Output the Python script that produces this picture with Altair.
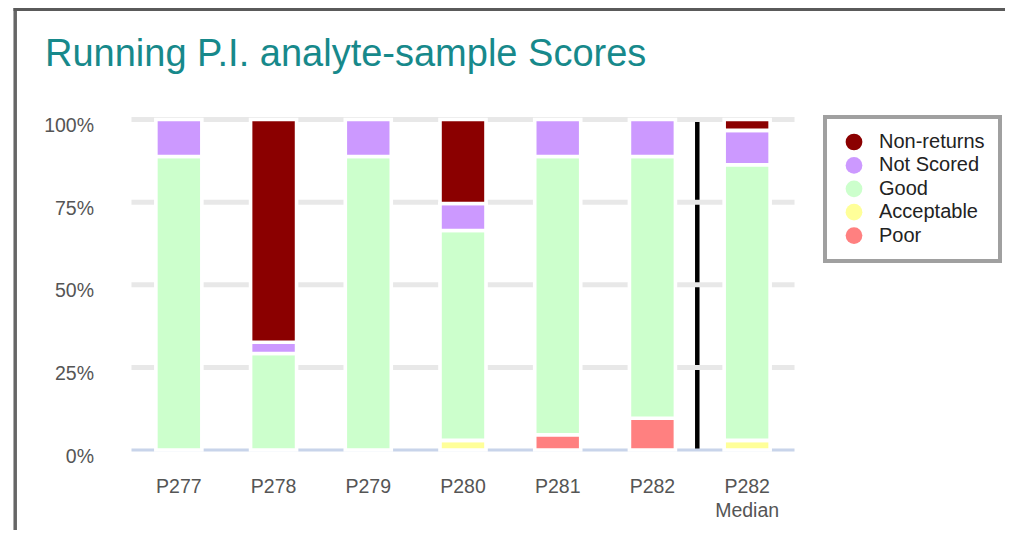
import altair as alt
import pandas as pd

# ---------------- data ----------------
categories = ["P277", "P278", "P279", "P280", "P281", "P282", "P282 Median"]
series = ["Non-returns", "Not Scored", "Good", "Acceptable", "Poor"]
colors = ["#8b0000", "#cc99ff", "#ccffcc", "#ffff99", "#ff8080"]

poor = [0, 0, 0, 0, 4.6, 9.6, 0]
acceptable = [0, 0, 0, 2.9, 0, 0, 2.9]
good = [88.8, 29.2, 88.8, 63.5, 84.2, 79.2, 83.4]
not_scored = [11.2, 3.4, 11.2, 8.2, 11.2, 11.2, 10.4]
non_returns = [0, 67.4, 0, 25.4, 0, 0, 3.3]

y_ticks = [0, 25, 50, 75, 100]
separator_before = "P282 Median"
title_text = "Running P.I. analyte-sample Scores"

# ---------------- layout ----------------
PAD_L, PAD_T, PAD_R, PAD_B = 123.5, 111.5, 210.5, 80
W, H = 663, 330.5
FONT = "Liberation Sans"

stack_series = [("Poor", poor), ("Acceptable", acceptable), ("Good", good),
                ("Not Scored", not_scored), ("Non-returns", non_returns)]
rows = []
for k, (name, vals) in enumerate(stack_series):
    for c, v in zip(categories, vals):
        rows.append({"cat": c, "series": name, "value": v, "order": k})
df = pd.DataFrame(rows)

xscale = alt.Scale(domain=categories, paddingInner=0, paddingOuter=0)
yscale = alt.Scale(domain=[y_ticks[0], y_ticks[-1]], nice=False, zero=True)

x_axis = alt.Axis(title=None, domain=False, ticks=False, labelAngle=0,
                  labelFontSize=19.5, labelColor="#555555", labelPadding=27,
                  labelLineHeight=24, labelFont=FONT,
                  labelExpr="split(datum.label, ' ')")
y_axis = alt.Axis(title=None, domain=False, ticks=False, grid=False,
                  values=y_ticks, labelExpr="datum.value + '%'",
                  labelFontSize=19.5, labelColor="#555555", labelPadding=38,
                  labelFont=FONT, labelOffset=6)

sep_df = pd.DataFrame({"cat": [separator_before], "top": [y_ticks[-1]], "bottom": [y_ticks[0]]})
separator = alt.Chart(sep_df).mark_rule(color="black", strokeWidth=4.5, xOffset=-2.5).encode(
    x=alt.X("cat:N", bandPosition=0, scale=xscale, axis=x_axis),
    y=alt.Y("top:Q", scale=yscale, axis=y_axis),
    y2="bottom:Q",
)

grid = alt.Chart(pd.DataFrame({"value": y_ticks[1:]})).mark_rule(
    color="#e8e8e8", strokeWidth=5).encode(y=alt.Y("value:Q", scale=yscale, axis=y_axis))

baseline = alt.Chart(pd.DataFrame({"value": y_ticks[:1]})).mark_rule(
    color="#c8d4ea", strokeWidth=3).encode(y=alt.Y("value:Q", scale=yscale, axis=y_axis))

bars = alt.Chart(df).transform_filter("datum.value > 0").mark_bar(
    size=46, stroke="white", strokeWidth=3.6).encode(
    x=alt.X("cat:N", sort=categories, scale=xscale, axis=x_axis),
    y=alt.Y("value:Q", stack="zero", scale=yscale, axis=y_axis),
    color=alt.Color("series:N", scale=alt.Scale(domain=series, range=colors),
                    legend=alt.Legend(title=None, orient="none", legendX=693.5, legendY=-2.5,
                                      padding=15, strokeColor="#a0a0a0",
                                      fillColor="white", symbolType="circle", symbolSize=280,
                                      symbolStrokeWidth=0, symbolOffset=4,
                                      labelFontSize=20, labelFont=FONT,
                                      labelColor="#222222", labelOffset=15, rowPadding=3.4)),
    order=alt.Order("order:Q"),
)

frame_df = pd.DataFrame({"a": [0]})
frame_left = alt.Chart(frame_df).mark_rule(color="#666666", strokeWidth=3.5).encode(
    x=alt.value(-116.3), y=alt.value(-PAD_T), y2=alt.value(H + PAD_B))
frame_top = alt.Chart(frame_df).mark_rule(color="#5a5a5a", strokeWidth=3).encode(
    y=alt.value(-PAD_T + 1.5), x=alt.value(-118), x2=alt.value(W + PAD_R))

title = alt.Chart(pd.DataFrame({"t": [title_text]})).mark_text(
    align="left", baseline="alphabetic", fontSize=38, font=FONT, color="#17898b").encode(
    text="t:N", x=alt.value(-86.5), y=alt.value(-53.5))

chart = alt.layer(separator, grid, baseline, bars, frame_left, frame_top, title).properties(
    width=W, height=H,
    padding={"left": PAD_L, "top": PAD_T, "right": PAD_R, "bottom": PAD_B},
    autosize=alt.AutoSizeParams(type="none"),
).configure(font=FONT).configure_view(stroke=None).configure_legend(strokeWidth=4)

chart.save("out.html", embed_options={"renderer": "svg", "actions": False})
